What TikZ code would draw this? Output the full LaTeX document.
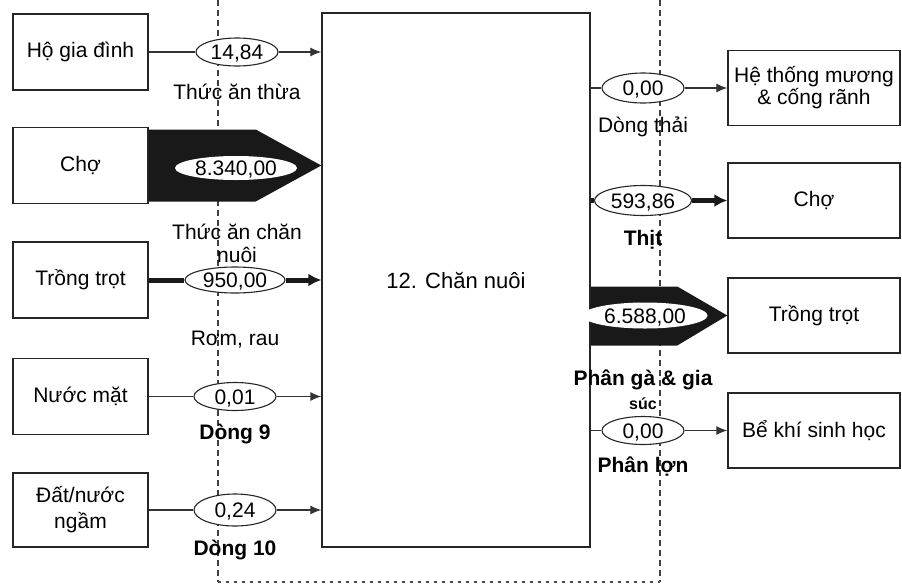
\documentclass[tikz,border=0pt]{standalone}
\usepackage{fontspec}
\setmainfont{Liberation Sans}
\usetikzlibrary{arrows.meta,shapes.geometric,calc}
\begin{document}
\begin{tikzpicture}[x=1pt,y=-1pt,
  every node/.style={font=\fontsize{21}{23}\selectfont},
  box/.style={draw=black!85,line width=1.4pt,rectangle,align=center,inner sep=2pt},
  lbox/.style={box,minimum width=135pt,minimum height=76pt},
  rbox/.style={box,minimum width=172pt,minimum height=75pt},
  val/.style={ellipse,draw=black!85,line width=1.1pt,fill=white,inner sep=0pt,minimum width=82pt,minimum height=28pt,text height=15pt,text depth=0pt},
  bigval/.style={ellipse,fill=white,inner sep=0pt,minimum width=122pt,minimum height=24pt,text height=15pt,text depth=0pt},
  thin/.style={line width=1.1pt,draw=black!80,-{Latex[length=11pt,width=9pt]}},
  thinline/.style={line width=1.1pt,draw=black!80},
  thick/.style={line width=5pt,draw=black!90,-{Latex[length=13pt,width=13pt]}},
  thickline/.style={line width=5pt,draw=black!90},
  lab/.style={align=center,inner sep=0pt},
  blab/.style={lab,font=\fontsize{21}{23}\selectfont\bfseries},
  bnd/.style={line width=1.3pt,draw=black!75,dash pattern=on 6pt off 4pt},
  bndb/.style={line width=1.3pt,draw=black!70,dash pattern=on 3pt off 5pt}]
\useasboundingbox (0,0) rectangle (902,587);
% system boundary
\coordinate (bl) at (218,582);
\coordinate (br) at (660,582);
\coordinate (tl) at (218,0);
\coordinate (tr) at (660,0);
\draw[bnd] (tl) -- (bl);
\draw[bnd] (tr) -- (br);
\draw[bndb] (bl) -- (br);
% main process
\node[box,minimum width=268pt,minimum height=534pt,font=\fontsize{22}{24}\selectfont] (main) at (456,280) {12. Chăn nuôi};
% left boxes
\node[lbox] (hgd) at (80.5,52) {Hộ gia đình};
\node[lbox] (cho1) at (80.5,165.5) {Chợ};
\node[lbox] (tt1) at (80.5,280) {Trồng trọt};
\node[lbox] (nm) at (80.5,396.5) {Nước mặt};
\node[lbox,minimum height=74pt,font=\fontsize{21}{26}\selectfont] (dn) at (80.5,510) {Đất/nước\\ngầm};
% right boxes
\node[rbox,font=\fontsize{21}{22}\selectfont] (htm) at (814,88) {Hệ thống mương\\\& cống rãnh};
\node[rbox] (cho2) at (814,200.5) {Chợ};
\node[rbox] (tt2) at (814,315.5) {Trồng trọt};
\node[rbox] (bk) at (814,430.5) {Bể khí sinh học};
% Ho gia dinh -> main
\node[val] (v1) at (237,52) {14,84};
\draw[thinline] (hgd.east) -- (v1.west);
\draw[thin] (v1.east) -- (v1.east -| main.west);
\node[lab] (l1) at (237,92) {Thức ăn thừa};
% Cho -> main (fat arrow)
\fill[black!90] ($(cho1.east)+(0,-36)$) -- ($(cho1.east)+(107,-36)$) -- (main.west |- cho1.east) -- ($(cho1.east)+(107,36)$) -- ($(cho1.east)+(0,36)$) -- cycle;
\node[bigval] (v2) at (236,168) {8.340,00};
\node[lab] (l2) at (237,243) {Thức ăn chăn\\nuôi};
% Trong trot -> main
\node[val,minimum width=100pt,minimum height=26pt] (v3) at (235,280) {950,00};
\draw[thickline] (tt1.east) -- (v3.west);
\draw[thick] (v3.east) -- (v3.east -| main.west);
\node[lab] (l3) at (235,340) {Rơm, rau};
% Nuoc mat -> main
\node[val] (v4) at (235,396.5) {0,01};
\draw[thinline] (nm.east) -- (v4.west);
\draw[thin] (v4.east) -- (v4.east -| main.west);
\node[blab] (l4) at (235,434) {Dòng 9};
% Dat/nuoc ngam -> main
\node[val,minimum height=32pt] (v5) at (235,510) {0,24};
\draw[thinline] (dn.east) -- (v5.west);
\draw[thin] (v5.east) -- (v5.east -| main.west);
\node[blab] (l5) at (235,550) {Dòng 10};
% main -> He thong muong
\node[val,minimum height=30pt] (v6) at (643,88) {0,00};
\draw[thinline] (main.east |- htm.west) -- (v6.west);
\draw[thin] (v6.east) -- (htm.west);
\node[lab] (l6) at (643,127) {Dòng thải};
% main -> Cho
\node[val,minimum width=97pt,minimum height=30pt] (v7) at (643,200.5) {593,86};
\draw[thickline] (main.east |- cho2.west) -- (v7.west);
\draw[thick] (v7.east) -- (cho2.west);
\node[blab] (l7) at (643,240) {Thịt};
% main -> Trong trot (fat arrow)
\fill[black!90] ($(main.east |- tt2.west)+(0,-29)$) -- ($(tt2.west)+(-50,-29)$) -- (tt2.west) -- ($(tt2.west)+(-50,30)$) -- ($(main.east |- tt2.west)+(0,30)$) -- cycle;
\node[bigval,minimum width=125pt,minimum height=26pt] (v8) at (645,315.5) {6.588,00};
\node[blab] (l8a) at (643,380) {Phân gà \& gia};
\node[blab,font=\fontsize{16}{18}\selectfont\bfseries] (l8b) at (643,404) {súc};
% main -> Be khi sinh hoc
\node[val] (v9) at (643,430.5) {0,00};
\draw[thinline] (main.east |- bk.west) -- (v9.west);
\draw[thin] (v9.east) -- (bk.west);
\node[blab] (l9) at (643,467) {Phân lợn};
\end{tikzpicture}
\end{document}
